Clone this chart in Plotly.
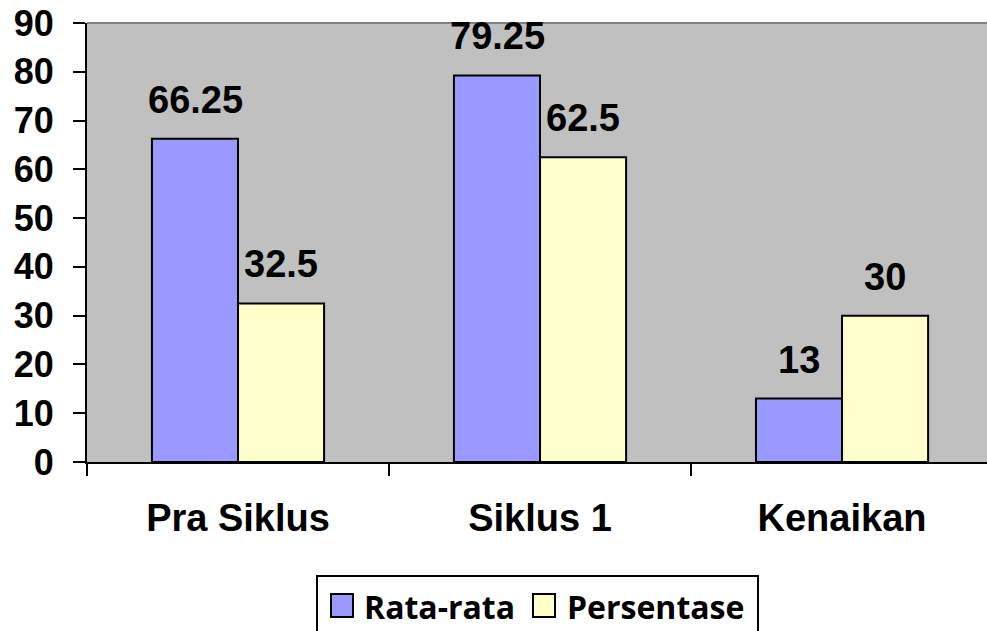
import plotly.graph_objects as go

# Chart data
categories = ["Pra Siklus", "Siklus 1", "Kenaikan"]
rata_rata = [66.25, 79.25, 13]
persentase = [32.5, 62.5, 30]
y_ticks = [0, 10, 20, 30, 40, 50, 60, 70, 80, 90]
series_names = ["Rata-rata", "Persentase"]

BLUE = "#9999FF"
YELLOW = "#FFFFCC"
ARIAL = "Liberation Sans, Arial, sans-serif"
CALIBRI = "Open Sans, Lato, sans-serif"

W, H = 987, 631
ML, MR, MT, MB = 87, 0, 23, 169
PW, PH = W - ML - MR, H - MT - MB


def px(xp):
    return (xp - ML) / PW


def py(yp):
    return (H - MB - yp) / PH


fig = go.Figure()
fig.add_trace(go.Bar(x=categories, y=rata_rata, name=series_names[0],
                     marker=dict(color=BLUE, line=dict(color="black", width=2))))
fig.add_trace(go.Bar(x=categories, y=persentase, name=series_names[1],
                     marker=dict(color=YELLOW, line=dict(color="black", width=2))))

# value labels above each bar
annotations = []
for vals, shift in ((rata_rata, -43), (persentase, 43)):
    for c, v in zip(categories, vals):
        annotations.append(dict(
            x=c, y=v, xref="x", yref="y", text=f"{v:g}", showarrow=False,
            xshift=shift, yshift=16, yanchor="bottom", xanchor="center",
            font=dict(family=ARIAL, size=38, color="black", weight="bold")))

# legend box drawn by hand
shapes = [
    dict(type="line", xref="paper", yref="paper", x0=0, x1=1, y0=1, y1=1,
         line=dict(color="#808080", width=2)),
    dict(type="rect", xref="paper", yref="paper", x0=px(317), x1=px(758),
         y0=py(576), y1=py(660), line=dict(color="black", width=2),
         fillcolor="white"),
    dict(type="rect", xref="paper", yref="paper", x0=px(331), x1=px(353),
         y0=py(594), y1=py(617), line=dict(color="black", width=2),
         fillcolor=BLUE),
    dict(type="rect", xref="paper", yref="paper", x0=px(533), x1=px(555),
         y0=py(594), y1=py(617), line=dict(color="black", width=2),
         fillcolor=YELLOW),
]
for name, xl in ((series_names[0], 362), (series_names[1], 565)):
    annotations.append(dict(
        x=px(xl), y=py(606), xref="paper", yref="paper", text=name,
        showarrow=False, xanchor="left", yanchor="middle",
        font=dict(family=CALIBRI, size=32, color="black", weight="bold")))

fig.update_layout(
    width=W, height=H,
    margin=dict(l=ML, r=MR, t=MT, b=MB, pad=0),
    paper_bgcolor="white", plot_bgcolor="#C0C0C0",
    barmode="group", bargap=0.43, bargroupgap=0,
    showlegend=False,
    annotations=annotations, shapes=shapes,
    xaxis=dict(type="category", range=[-0.5, 2.48], tickson="boundaries",
               ticks="outside", ticklen=12, tickwidth=2, tickcolor="black",
               showline=True, linecolor="black", linewidth=2, showgrid=False,
               ticklabelstandoff=21,
               tickfont=dict(family=ARIAL, size=38, color="black", weight="bold")),
    yaxis=dict(range=[0, 90], tickvals=y_ticks, ticks="outside", ticklen=12,
               tickwidth=2, tickcolor="black", showline=True, linecolor="black",
               linewidth=2, showgrid=False, zeroline=False,
               ticklabelstandoff=12,
               tickfont=dict(family=ARIAL, size=36, color="black", weight="bold")),
)

fig.write_html("out.html")
